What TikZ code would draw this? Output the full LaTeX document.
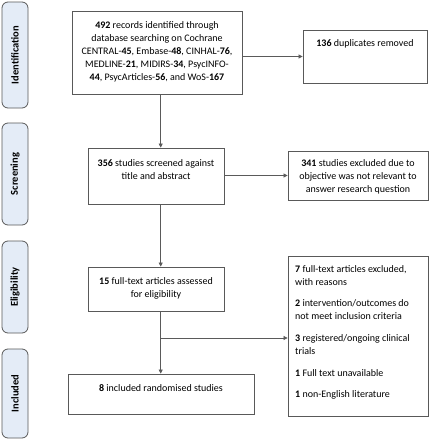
\documentclass[tikz,border=0pt]{standalone}
\usepackage{fontspec}
\setmainfont{Carlito}
\usetikzlibrary{arrows.meta}
\definecolor{phasefill}{HTML}{E4ECF7}
\definecolor{edge}{HTML}{595959}
\definecolor{conn}{HTML}{5A5A5A}
\begin{document}
\begin{tikzpicture}[x=1pt,y=-1pt,
  phase/.style={draw=edge, fill=phasefill, rounded corners=6pt, line width=0.8pt, inner sep=0, rotate=90, font=\fontsize{10.5}{12}\selectfont\bfseries},
  box/.style={draw=edge, line width=0.8pt, inner sep=0},
  txt/.style={font=\fontsize{10}{13}\selectfont, align=center, inner sep=0},
  arr/.style={draw=conn, line width=0.7pt, -{Triangle[length=4pt,width=4pt]}}]
\useasboundingbox (0,0) rectangle (430,440);
% phase labels
\node[phase, minimum width=106pt, minimum height=26pt] (pid) at (15,55) {Identification};
\node[phase, minimum width=102pt, minimum height=26pt] (psc) at (15,174) {Screening};
\node[phase, minimum width=92pt, minimum height=26pt] (pel) at (15,287) {Eligibility};
\node[phase, minimum width=89pt, minimum height=26pt] (pin) at (15,393.5) {Included};
% boxes
\node[box, minimum width=170pt, minimum height=83pt] (b1) at (157,52.5) {};
\node[box, minimum width=124pt, minimum height=53pt] (b136) at (365,56.5) {};
\node[box, minimum width=136pt, minimum height=56pt] (b356) at (156,176) {};
\node[box, minimum width=140pt, minimum height=49pt] (b341) at (358,175.5) {};
\node[box, minimum width=136pt, minimum height=44pt] (b15) at (156,289) {};
\node[box, minimum width=186pt, minimum height=40pt] (b8) at (161,394) {};
\node[box, minimum width=140pt, minimum height=160pt] (b7) at (358,336) {};
% texts
\node[txt] (t1) at (157,52) {\textbf{492} records identified through\\database searching on Cochrane\\CENTRAL-\textbf{45}, Embase-\textbf{48}, CINHAL-\textbf{76},\\MEDLINE-\textbf{21}, MIDIRS-\textbf{34}, PsycINFO-\\\textbf{44}, PsycArticles-\textbf{56}, and WoS-\textbf{167}};
\node[txt] (t136) at (365,44) {\textbf{136} duplicates removed};
\node[txt] (t356) at (156,169.5) {\textbf{356} studies screened against\\title and abstract};
\node[txt] (t341) at (358,177) {\textbf{341} studies excluded due to\\objective was not relevant to\\answer research question};
\node[txt] (t15) at (156,288) {\textbf{15} full-text articles assessed\\for eligibility};
\node[txt] (t8) at (161,388.5) {\textbf{8} included randomised studies};
\node[txt, align=left, anchor=north west] (t7) at (295,265) {\textbf{7} full-text articles excluded,\\with reasons\\[8.7pt]\textbf{2} intervention/outcomes do\\not meet inclusion criteria\\[8.7pt]\textbf{3} registered/ongoing clinical\\trials\\[8.7pt]\textbf{1} Full text unavailable\\[8.7pt]\textbf{1} non-English literature};
% connectors
\coordinate (cx) at (160.7,0);
\coordinate (br) at (160.7,338);
\draw[arr] (b1.south -| cx) -- (b356.north -| cx);
\draw[arr] (b356.south -| cx) -- (b15.north -| cx);
\draw[arr] (b15.south -| cx) -- (b8.north -| cx);
\draw[arr] (br) -- (b7.west |- br);
\draw[arr] (b1.east |- b136.west) -- (b136.west);
\draw[arr] (b356.east |- b341.west) -- (b341.west);
\end{tikzpicture}
\end{document}
